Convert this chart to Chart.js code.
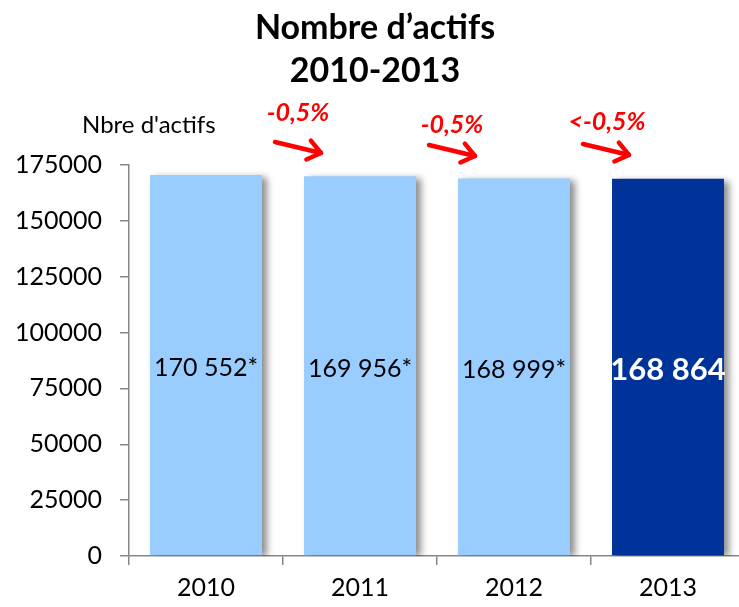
<!DOCTYPE html>
<html>
<head>
<meta charset="utf-8">
<script src="https://cdn.jsdelivr.net/npm/chart.js@4/dist/chart.umd.min.js"></script>
<style>
    html, body {
        margin: 0;
        padding: 0;
        background: #ffffff;
        overflow: hidden;
    }

    #wrap {
        position: relative;
        width: 745px;
        height: 607px;
    }
</style>
</head>
<body>
<div id="wrap">
    <canvas id="actifsChart"></canvas>
</div>

<script>
const years = ["2010", "2011", "2012", "2013"];

const actifs = [170552, 169956, 168999, 168864];

const valueLabels = ["170 552*", "169 956*", "168 999*", "168 864"];

const evolutions = ["-0,5%", "-0,5%", "<-0,5%"];

const yTicks = [0, 25000, 50000, 75000, 100000, 125000, 150000, 175000];

const barColors = ["#99ccff", "#99ccff", "#99ccff", "#003399"];

const FONT = "Lato, 'Open Sans', sans-serif";

// shadow on the right side of each bar
const shadowPlugin = {

    id: "barShadow",

    beforeDatasetsDraw(chart) {

        const ctx = chart.ctx;

        ctx.save();

        ctx.shadowColor = "rgba(0,0,0,0.45)";
        ctx.shadowBlur = 7;
        ctx.shadowOffsetX = 5;
        ctx.shadowOffsetY = 2;
    },

    afterDatasetsDraw(chart) {

        chart.ctx.restore();
    }
};

// titles, value labels and red arrows
const annotationPlugin = {

    id: "annotations",

    afterDraw(chart) {

        const ctx = chart.ctx;
        const x = chart.scales.x;
        const meta = chart.getDatasetMeta(0);

        ctx.save();

        ctx.fillStyle = "#000000";
        ctx.textAlign = "center";
        ctx.textBaseline = "middle";
        ctx.font = "bold 34px " + FONT;
        ctx.fillText("Nombre d’actifs", 375, 28);
        ctx.fillText("2010-2013", 375, 71);

        ctx.textAlign = "left";
        ctx.font = "24px " + FONT;
        ctx.fillText("Nbre d'actifs", 82, 125);

        meta.data.forEach((bar, i) => {

            const last = i === meta.data.length - 1;

            ctx.textAlign = "center";
            ctx.fillStyle = last ? "#ffffff" : "#000000";
            ctx.font = (last ? "bold 31px " : "25px ") + FONT;
            ctx.fillText(
                valueLabels[i],
                bar.x,
                (bar.y + bar.base) / 2 + 3
            );
        });

        const arrowDy = [0, 3, 2];
        const labelY = [113, 125, 122];

        evolutions.forEach((txt, i) => {

            const edge =
                (x.getPixelForValue(i) + x.getPixelForValue(i + 1)) / 2;

            const x0 = edge - 8;
            const y0 = 142 + arrowDy[i];
            const x1 = edge + 38;
            const y1 = 153 + arrowDy[i];

            ctx.strokeStyle = "#ff0000";
            ctx.lineWidth = 4.5;
            ctx.lineCap = "round";
            ctx.lineJoin = "round";

            ctx.beginPath();
            ctx.moveTo(x0, y0);
            ctx.lineTo(x1, y1);
            ctx.stroke();

            const ang = Math.atan2(y1 - y0, x1 - x0);

            ctx.beginPath();
            ctx.moveTo(x1 - 16 * Math.cos(ang - 0.65), y1 - 16 * Math.sin(ang - 0.65));
            ctx.lineTo(x1, y1);
            ctx.lineTo(x1 - 16 * Math.cos(ang + 0.65), y1 - 16 * Math.sin(ang + 0.65));
            ctx.stroke();

            ctx.fillStyle = "#ff0000";
            ctx.font = "italic bold 25px " + FONT;
            ctx.textAlign = "center";
            ctx.fillText(txt, edge + 15 + (i === 2 ? 1 : 0), labelY[i]);
        });

        ctx.restore();
    }
};

function createChart() {

    const ctx =
        document
        .getElementById("actifsChart")
        .getContext("2d");

    new Chart(ctx, {

        type: "bar",

        data: {

            labels: years,

            datasets: [
                {
                    data: actifs,
                    backgroundColor: barColors,
                    borderWidth: 0,
                    barPercentage: 0.727,
                    categoryPercentage: 1
                }
            ]
        },

        options: {

            responsive: true,
            maintainAspectRatio: false,
            animation: false,
            devicePixelRatio: 1,

            layout: {
                padding: {
                    top: 165,
                    left: 0,
                    right: 0,
                    bottom: 0
                }
            },

            plugins: {
                legend: { display: false },
                title: { display: false },
                tooltip: { enabled: false }
            },

            scales: {

                x: {

                    afterFit(scale) {
                        scale.height = 51;
                    },

                    border: {
                        color: "#868686",
                        width: 1.5
                    },

                    grid: {
                        drawOnChartArea: false,
                        drawTicks: true,
                        tickLength: 9,
                        color: "#868686",
                        lineWidth: 1.5
                    },

                    ticks: {
                        color: "#000000",
                        padding: 8,
                        font: {
                            family: FONT,
                            size: 25
                        }
                    }
                },

                y: {

                    min: 0,
                    max: 175000,

                    afterFit(scale) {
                        scale.width = 129;
                    },

                    afterBuildTicks(scale) {
                        scale.ticks = yTicks.map(v => ({ value: v }));
                    },

                    border: {
                        color: "#868686",
                        width: 1.5
                    },

                    grid: {
                        drawOnChartArea: false,
                        drawTicks: true,
                        tickLength: 9,
                        color: "#868686",
                        lineWidth: 1.5
                    },

                    ticks: {
                        color: "#000000",
                        padding: 18,
                        font: {
                            family: FONT,
                            size: 25
                        },
                        callback: v => String(v)
                    }
                }
            }
        },

        plugins: [shadowPlugin, annotationPlugin]
    });
}

createChart();
</script>
</body>
</html>
